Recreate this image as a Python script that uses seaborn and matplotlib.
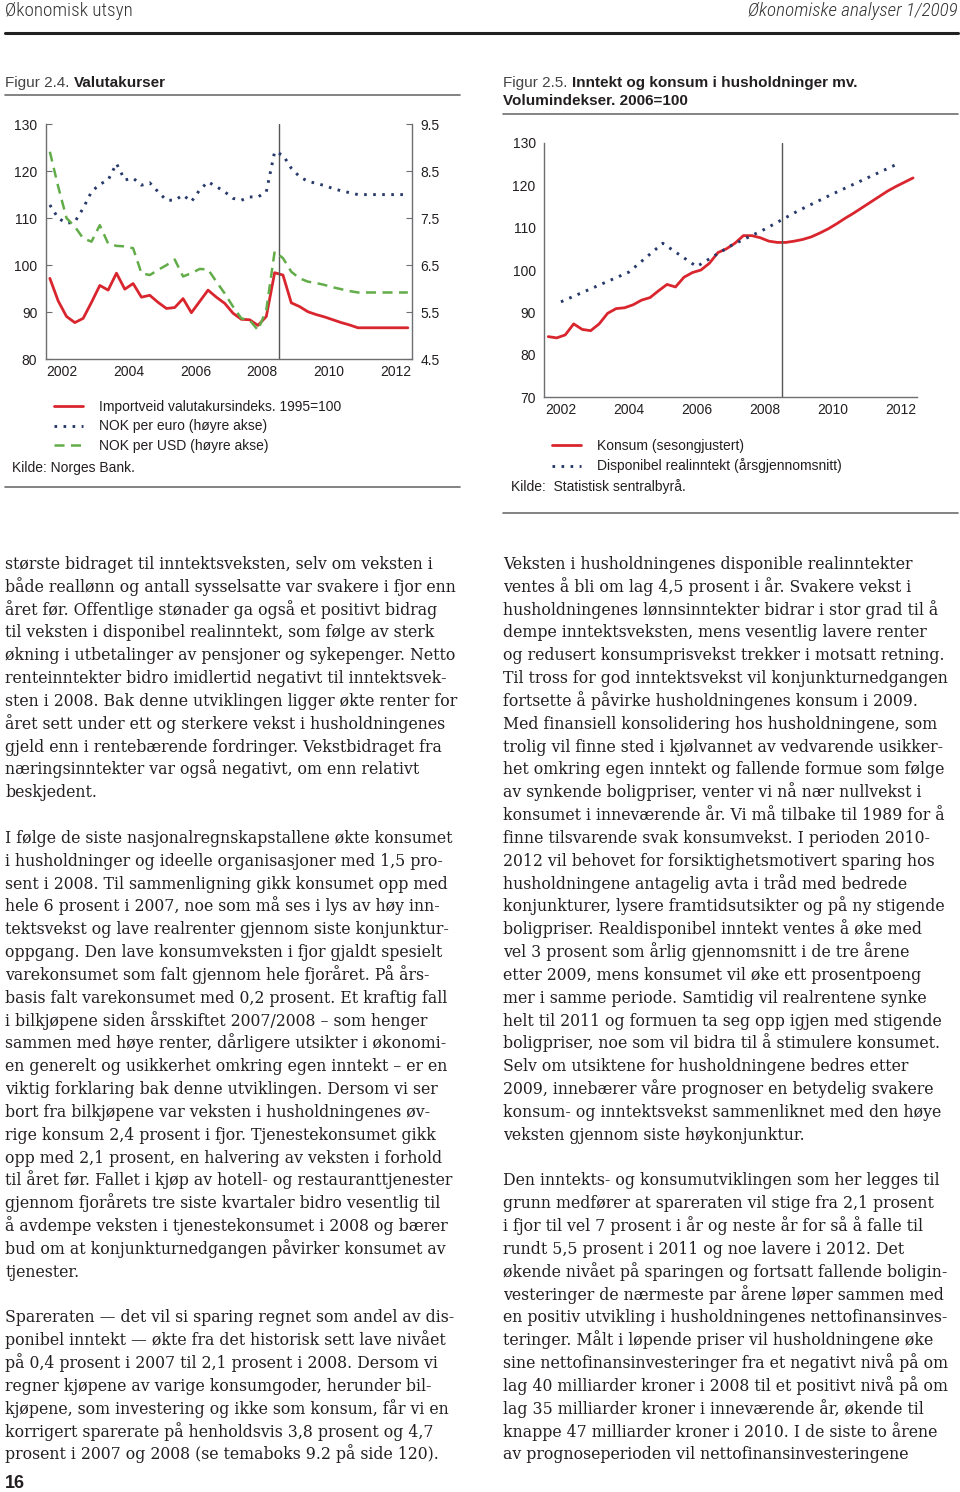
import matplotlib
matplotlib.use("Agg")
import matplotlib.pyplot as plt
import seaborn as sns
import pandas as pd
from matplotlib.lines import Line2D

W, H = 960, 1492

# time axis: quarters 2002Q1 - 2012Q4 (mid-quarter, decimal years)
quarters = [y + (q - 0.5) / 4 for y in range(2002, 2013) for q in range(1, 5)]

# Figur 2.4 Valutakurser
import_index = [97.2, 92.4, 89.1, 87.8,
                88.7, 92.1, 95.7, 94.7,
                98.3, 94.9, 96.1, 93.2,
                93.6, 92.1, 90.8, 91.0,
                92.9, 89.9, 92.3, 94.7,
                93.2, 91.9, 89.8, 88.5,
                88.4, 87.2, 89.1, 98.4,
                97.9, 92.0, 91.2, 90.1,
                89.5, 89.0, 88.4, 87.8,
                87.3, 86.7, 86.7, 86.7,
                86.7, 86.7, 86.7, 86.7]
nok_euro = [7.78, 7.50, 7.39, 7.42,
            7.71, 8.06, 8.22, 8.31,
            8.66, 8.31, 8.35, 8.20,
            8.25, 8.06, 7.88, 7.88,
            7.99, 7.85, 8.10, 8.27,
            8.17, 8.06, 7.92, 7.88,
            7.95, 7.95, 8.06, 8.91,
            8.84, 8.56, 8.38, 8.28,
            8.24, 8.19, 8.13, 8.08,
            8.04, 8.00, 8.00, 8.00,
            8.00, 8.00, 8.00, 8.00]
nok_usd = [8.91, 8.17, 7.50, 7.32,
           7.07, 7.00, 7.35, 6.96,
           6.91, 6.90, 6.86, 6.33,
           6.29, 6.40, 6.50, 6.62,
           6.26, 6.33, 6.42, 6.41,
           6.15, 5.90, 5.62, 5.37,
           5.33, 5.12, 5.55, 6.79,
           6.65, 6.36, 6.22, 6.15,
           6.12, 6.08, 6.03, 5.99,
           5.95, 5.92, 5.92, 5.92,
           5.92, 5.92, 5.92, 5.92]

# Figur 2.5 Inntekt og konsum
konsum = [84.3, 84.0, 84.7, 87.3,
          86.0, 85.7, 87.3, 89.8,
          90.9, 91.1, 91.8, 92.9,
          93.5, 95.1, 96.6, 96.0,
          98.3, 99.4, 100.0, 101.6,
          104.1, 105.0, 106.3, 108.1,
          108.1, 107.6, 106.8, 106.5,
          106.5, 106.8, 107.2, 107.8,
          108.7, 109.7, 110.9, 112.2,
          113.4, 114.7, 116.0, 117.3,
          118.6, 119.7, 120.7, 121.7]
disp_years = [2002.5, 2003.5, 2004.5, 2005.5, 2006.5, 2007.5,
              2008.5, 2009.5, 2010.5, 2011.5, 2012.5]
disp_income = [92.5, 96.0, 99.5, 106.3, 100.8, 105.7,
               109.6, 114.0, 117.9, 121.6, 125.3]

year_labels = ["2002", "2004", "2006", "2008", "2010", "2012"]

RED = "#d9262e"
NAVY = "#283a6b"
GREEN = "#62ad4a"
INK = "#231f20"
GREY = "#6d6e71"
HEAD_FONT = ["Roboto Condensed", "Roboto", "DejaVu Sans"]

sns.set_style("white")
plt.rcParams["font.family"] = ["Liberation Sans", "DejaVu Sans"]
plt.rcParams["text.color"] = INK

fig = plt.figure(figsize=(W / 100, H / 100), dpi=100)


def fx(x):
    return x / W


def fy(y):
    return 1 - y / H


def axes_px(left, top, right, bottom):
    return fig.add_axes([fx(left), fy(bottom), (right - left) / W, (bottom - top) / H])


def rule(x0, x1, y, lw=1.2, color=GREY):
    fig.add_artist(Line2D([fx(x0), fx(x1)], [fy(y), fy(y)], color=color, lw=lw,
                          transform=fig.transFigure))


def style_years(ax):
    ax.set_xlim(2002, 2013)
    ax.set_xticks(range(2002, 2014))
    ax.set_xticklabels([])
    ax.set_xticks([2002.5, 2004.5, 2006.5, 2008.5, 2010.5, 2012.5], minor=True)
    ax.set_xticklabels(year_labels, minor=True)
    ax.tick_params(axis="x", which="major", direction="in", length=4, color=GREY)
    ax.tick_params(axis="x", which="minor", length=0, pad=4, labelsize=10, labelcolor=INK)


# ---------- header ----------
fig.text(fx(5), fy(11), "Økonomisk utsyn", fontsize=13.8, va="center", color="#333",
         family=HEAD_FONT, weight="light")
fig.text(fx(958), fy(11), "Økonomiske analyser 1/2009", fontsize=13.8, va="center", ha="right",
         style="italic", color="#333", family=HEAD_FONT, weight="light")
rule(5, 958, 33, lw=2.2, color="#222")

# ---------- Figur 2.4 ----------
t1 = fig.text(fx(5), fy(83), "Figur 2.4. ", fontsize=11, va="center", color="#444")
fig.add_artist(plt.Annotation("Valutakurser", xy=(1, 0.5), xycoords=t1, va="center",
                              ha="left", fontsize=11, weight="bold"))
rule(5, 460, 95)

ax1 = axes_px(45.7, 124, 412, 359.3)
ax1b = ax1.twinx()
sns.lineplot(x=quarters, y=import_index, ax=ax1, color=RED, lw=2,
             label="Importveid valutakursindeks. 1995=100", legend=False)
sns.lineplot(x=quarters, y=nok_euro, ax=ax1b, color=NAVY, lw=2.1, linestyle=(0, (0.9, 2.2)),
             label="NOK per euro (høyre akse)", legend=False)
sns.lineplot(x=quarters, y=nok_usd, ax=ax1b, color=GREEN, lw=1.8, linestyle=(0, (4, 2.6)),
             label="NOK per USD (høyre akse)", legend=False)
ax1.axvline(2009, color="#555", lw=1)
ax1.set_ylim(80, 130)
ax1.set_yticks([80, 90, 100, 110, 120, 130])
ax1b.set_ylim(4.5, 9.5)
ax1b.set_yticks([4.5, 5.5, 6.5, 7.5, 8.5, 9.5])
ax1b.set_yticklabels(["4.5", "5.5", "6.5", "7.5", "8.5", "9.5"])
style_years(ax1)
ax1.tick_params(axis="y", direction="in", length=4, pad=6, labelsize=10, color=GREY, labelcolor=INK)
ax1b.tick_params(axis="y", direction="in", length=4, pad=6, labelsize=10, color=GREY, labelcolor=INK)
for a in (ax1, ax1b):
    a.set_xlabel("")
    a.set_ylabel("")
    a.spines["top"].set_visible(False)
    for s in a.spines.values():
        s.set_color(GREY)
        s.set_linewidth(1)
ax1.spines["right"].set_visible(False)
ax1b.spines["left"].set_visible(False)
ax1b.spines["bottom"].set_visible(False)

handles = ax1.get_lines()[:1] + ax1b.get_lines()[:2]
fig.legend(handles, [h.get_label() for h in handles], loc="upper left",
           bbox_to_anchor=(fx(48), fy(394)), frameon=False, fontsize=10,
           handlelength=2.15, handletextpad=1.1, labelspacing=0.42, borderaxespad=0)
fig.text(fx(12), fy(468), "Kilde: Norges Bank.", fontsize=10, va="center")
rule(5, 460, 487)

# ---------- Figur 2.5 ----------
t2 = fig.text(fx(503), fy(83), "Figur 2.5. ", fontsize=11, va="center", color="#444")
fig.add_artist(plt.Annotation("Inntekt og konsum i husholdninger mv.", xy=(1, 0.5), xycoords=t2,
                              va="center", ha="left", fontsize=11, weight="bold"))
fig.text(fx(503), fy(101), "Volumindekser. 2006=100", fontsize=11, va="center", weight="bold")
rule(503, 958, 114)

ax2 = axes_px(544, 142.7, 917.3, 397.3)
sns.lineplot(x=quarters, y=konsum, ax=ax2, color=RED, lw=2,
             label="Konsum (sesongjustert)", legend=False)
sns.lineplot(x=disp_years, y=disp_income, ax=ax2, color=NAVY, lw=2.1, linestyle=(0, (0.9, 2.2)),
             label="Disponibel realinntekt (årsgjennomsnitt)", legend=False)
ax2.axvline(2009, color="#555", lw=1)
ax2.set_ylim(70, 130)
ax2.set_yticks([70, 80, 90, 100, 110, 120, 130])
style_years(ax2)
ax2.tick_params(axis="y", direction="in", length=4, pad=6, labelsize=10, color=GREY, labelcolor=INK)
ax2.set_xlabel("")
ax2.set_ylabel("")
ax2.spines["top"].set_visible(False)
ax2.spines["right"].set_visible(False)
for s in ax2.spines.values():
    s.set_color(GREY)
    s.set_linewidth(1)

handles2 = ax2.get_lines()[:2]
fig.legend(handles2, [h.get_label() for h in handles2], loc="upper left",
           bbox_to_anchor=(fx(546), fy(433)), frameon=False, fontsize=10,
           handlelength=2.15, handletextpad=1.1, labelspacing=0.42, borderaxespad=0)
fig.text(fx(511), fy(487), "Kilde:  Statistisk sentralbyrå.", fontsize=10, va="center")
rule(503, 958, 513)

# ---------- body text ----------
left_col = [
    "største bidraget til inntektsveksten, selv om veksten i",
    "både reallønn og antall sysselsatte var svakere i fjor enn",
    "året før. Offentlige stønader ga også et positivt bidrag",
    "til veksten i disponibel realinntekt, som følge av sterk",
    "økning i utbetalinger av pensjoner og sykepenger. Netto",
    "renteinntekter bidro imidlertid negativt til inntektsvek-",
    "sten i 2008. Bak denne utviklingen ligger økte renter for",
    "året sett under ett og sterkere vekst i husholdningenes",
    "gjeld enn i rentebærende fordringer. Vekstbidraget fra",
    "næringsinntekter var også negativt, om enn relativt",
    "beskjedent.",
    "",
    "I følge de siste nasjonalregnskapstallene økte konsumet",
    "i husholdninger og ideelle organisasjoner med 1,5 pro-",
    "sent i 2008. Til sammenligning gikk konsumet opp med",
    "hele 6 prosent i 2007, noe som må ses i lys av høy inn-",
    "tektsvekst og lave realrenter gjennom siste konjunktur-",
    "oppgang. Den lave konsumveksten i fjor gjaldt spesielt",
    "varekonsumet som falt gjennom hele fjoråret. På års-",
    "basis falt varekonsumet med 0,2 prosent. Et kraftig fall",
    "i bilkjøpene siden årsskiftet 2007/2008 – som henger",
    "sammen med høye renter, dårligere utsikter i økonomi-",
    "en generelt og usikkerhet omkring egen inntekt – er en",
    "viktig forklaring bak denne utviklingen. Dersom vi ser",
    "bort fra bilkjøpene var veksten i husholdningenes øv-",
    "rige konsum 2,4 prosent i fjor. Tjenestekonsumet gikk",
    "opp med 2,1 prosent, en halvering av veksten i forhold",
    "til året før. Fallet i kjøp av hotell- og restauranttjenester",
    "gjennom fjorårets tre siste kvartaler bidro vesentlig til",
    "å avdempe veksten i tjenestekonsumet i 2008 og bærer",
    "bud om at konjunkturnedgangen påvirker konsumet av",
    "tjenester.",
    "",
    "Spareraten \u2014 det vil si sparing regnet som andel av dis-",
    "ponibel inntekt \u2014 økte fra det historisk sett lave nivået",
    "på 0,4 prosent i 2007 til 2,1 prosent i 2008. Dersom vi",
    "regner kjøpene av varige konsumgoder, herunder bil-",
    "kjøpene, som investering og ikke som konsum, får vi en",
    "korrigert sparerate på henholdsvis 3,8 prosent og 4,7",
    "prosent i 2007 og 2008 (se temaboks 9.2 på side 120).",
]
right_col = [
    "Veksten i husholdningenes disponible realinntekter",
    "ventes å bli om lag 4,5 prosent i år. Svakere vekst i",
    "husholdningenes lønnsinntekter bidrar i stor grad til å",
    "dempe inntektsveksten, mens vesentlig lavere renter",
    "og redusert konsumprisvekst trekker i motsatt retning.",
    "Til tross for god inntektsvekst vil konjunkturnedgangen",
    "fortsette å påvirke husholdningenes konsum i 2009.",
    "Med finansiell konsolidering hos husholdningene, som",
    "trolig vil finne sted i kjølvannet av vedvarende usikker-",
    "het omkring egen inntekt og fallende formue som følge",
    "av synkende boligpriser, venter vi nå nær nullvekst i",
    "konsumet i inneværende år. Vi må tilbake til 1989 for å",
    "finne tilsvarende svak konsumvekst. I perioden 2010-",
    "2012 vil behovet for forsiktighetsmotivert sparing hos",
    "husholdningene antagelig avta i tråd med bedrede",
    "konjunkturer, lysere framtidsutsikter og på ny stigende",
    "boligpriser. Realdisponibel inntekt ventes å øke med",
    "vel 3 prosent som årlig gjennomsnitt i de tre årene",
    "etter 2009, mens konsumet vil øke ett prosentpoeng",
    "mer i samme periode. Samtidig vil realrentene synke",
    "helt til 2011 og formuen ta seg opp igjen med stigende",
    "boligpriser, noe som vil bidra til å stimulere konsumet.",
    "Selv om utsiktene for husholdningene bedres etter",
    "2009, innebærer våre prognoser en betydelig svakere",
    "konsum- og inntektsvekst sammenliknet med den høye",
    "veksten gjennom siste høykonjunktur.",
    "",
    "Den inntekts- og konsumutviklingen som her legges til",
    "grunn medfører at spareraten vil stige fra 2,1 prosent",
    "i fjor til vel 7 prosent i år og neste år for så å falle til",
    "rundt 5,5 prosent i 2011 og noe lavere i 2012. Det",
    "økende nivået på sparingen og fortsatt fallende boligin-",
    "vesteringer de nærmeste par årene løper sammen med",
    "en positiv utvikling i husholdningenes nettofinansinves-",
    "teringer. Målt i løpende priser vil husholdningene øke",
    "sine nettofinansinvesteringer fra et negativt nivå på om",
    "lag 40 milliarder kroner i 2008 til et positivt nivå på om",
    "lag 35 milliarder kroner i inneværende år, økende til",
    "knappe 47 milliarder kroner i 2010. I de siste to årene",
    "av prognoseperioden vil nettofinansinvesteringene",
]

BODY_FONT = ["DejaVu Serif"]
for col_x, lines in ((5, left_col), (503, right_col)):
    for i, line in enumerate(lines):
        if line:
            fig.text(fx(col_x), fy(569 + i * 22.83), line, fontsize=11.3, va="baseline",
                     family=BODY_FONT, color=INK)

fig.text(fx(5), fy(1488), "16", fontsize=13, weight="bold", va="baseline")

fig.savefig("out.png", dpi=100)
